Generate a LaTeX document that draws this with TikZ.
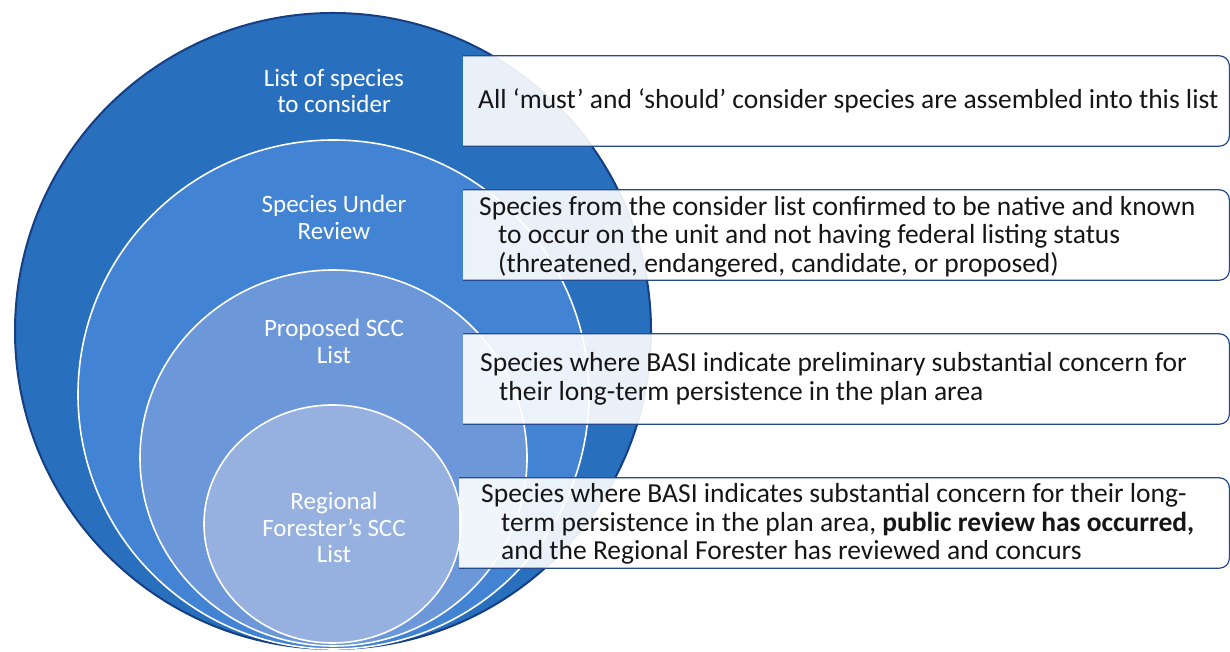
\documentclass[tikz,border=0pt]{standalone}
\usepackage{fontspec}
\setmainfont{Carlito}
\definecolor{ringA}{RGB}{40,112,190}
\definecolor{ringB}{RGB}{66,131,212}
\definecolor{ringC}{RGB}{108,151,217}
\definecolor{ringD}{RGB}{150,177,224}
\definecolor{rim}{RGB}{22,62,130}
\definecolor{edgeblue}{RGB}{35,75,140}
\definecolor{inkdark}{RGB}{22,22,22}
\begin{document}
\begin{tikzpicture}[
    x=1pt, y=1pt,
    ring/.style={
      fill=#1,
      draw=white,
      line width=1.6pt
    },
    panel/.style={
      anchor=west,
      inner sep=0pt,
      minimum height=90pt
    },
    panelline/.style={
      draw=edgeblue,
      line width=1.2pt
    },
    label/.style={
      align=center,
      inner sep=0pt,
      text=white,
      font=\fontsize{25}{26.5}\selectfont
    },
    note/.style={
      anchor=west,
      align=left,
      inner sep=0pt,
      text=inkdark,
      font=\fontsize{27.5}{28.5}\selectfont
    }
  ]

    \useasboundingbox (0,0) rectangle (1230,652);

    % Nested rings, outermost first
    \fill[ringA, draw=rim, line width=2pt] (333,321) circle[radius=318];
    \path[ring=ringB] (333.5,257.5) ellipse[x radius=255.5, y radius=254.5];
    \path[ring=ringC] (333.5,194) ellipse[x radius=193.5, y radius=188];
    \path[ring=ringD] (332.5,128) ellipse[x radius=128.5, y radius=119];

    % Ring labels
    \node[label] (l1) at (334,561) {List of species\\to consider};
    \node[label] (l2) at (334,434.5) {Species Under\\Review};
    \node[label] (l3) at (334,310.5) {Proposed SCC\\List};
    \node[label] (l4) at (334,124.5) {Regional\\Forester’s SCC\\List};

    % Description panels (rounded on the right only)
    \foreach \i/\x/\y in {1/463/551, 2/463/417, 3/463/273, 4/459/129} {
      \node[panel, minimum width={(1229-\x)*1pt}] (p\i) at (\x,\y) {};
      \fill[white, fill opacity=0.9] (p\i.north west)
        -- ([xshift=-10pt]p\i.north east) arc[start angle=90, end angle=0, radius=10pt]
        -- ([yshift=10pt]p\i.south east) arc[start angle=0, end angle=-90, radius=10pt]
        -- (p\i.south west) -- cycle;
      \draw[panelline] (p\i.north west)
        -- ([xshift=-10pt]p\i.north east) arc[start angle=90, end angle=0, radius=10pt]
        -- ([yshift=10pt]p\i.south east) arc[start angle=0, end angle=-90, radius=10pt]
        -- (p\i.south west);
    }

    % Panel texts
    \node[note] (n1) at ([xshift=15pt]p1.west) {All ‘must’ and ‘should’ consider species are assembled into this list};
    \node[note] (n2) at ([xshift=16pt,yshift=-1.5pt]p2.west) {Species from the consider list confirmed to be native and known\\
      \hspace*{19pt}to occur on the unit and not having federal listing status\\
      \hspace*{19pt}(threatened, endangered, candidate, or proposed)};
    \node[note] (n3) at ([xshift=17pt]p3.west) {Species where BASI indicate preliminary substantial concern for\\
      \hspace*{19pt}their long-term persistence in the plan area};
    \node[note] (n4) at ([xshift=22pt,yshift=-1pt]p4.west) {Species where BASI indicates substantial concern for their long-\\
      \hspace*{20pt}term persistence in the plan area, \textbf{public review has occurred,}\\
      \hspace*{20pt}and the Regional Forester has reviewed and concurs};

  \end{tikzpicture}
\end{document}
